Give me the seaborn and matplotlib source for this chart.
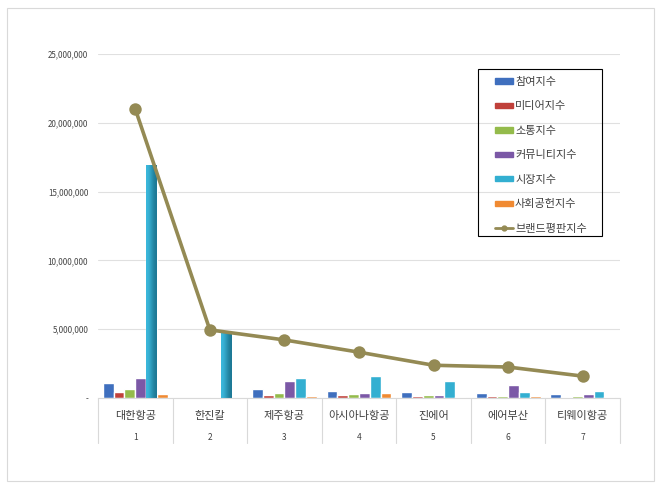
import pandas as pd
import seaborn as sns
import matplotlib.pyplot as plt
from matplotlib.patches import Rectangle
from matplotlib.lines import Line2D
from matplotlib.ticker import FuncFormatter
from matplotlib.colors import LinearSegmentedColormap

sns.set_style("white")
plt.rcParams['font.family'] = ['Noto Sans CJK KR', 'DejaVu Sans']

# data
companies = ['대한항공', '한진칼', '제주항공', '아시아나항공', '진에어', '에어부산', '티웨이항공']
ranks = ['1', '2', '3', '4', '5', '6', '7']
series = ['참여지수', '미디어지수', '소통지수', '커뮤니티지수', '시장지수', '사회공헌지수']
participation = [1090000, 20000, 650000, 480000, 440000, 360000, 310000]
media = [460000, 10000, 220000, 250000, 120000, 120000, 100000]
communication = [650000, 10000, 380000, 300000, 220000, 150000, 120000]
community = [1480000, 60000, 1240000, 380000, 220000, 940000, 290000]
market = [16900000, 4800000, 1450000, 1620000, 1240000, 440000, 510000]
social = [310000, 5000, 170000, 340000, 50000, 120000, 50000]
brand = [21000000, 4950000, 4220000, 3330000, 2380000, 2250000, 1590000]

colors = ['#3f6fbe', '#c0403a', '#94bb4b', '#7b58a6', '#33afd1', '#f08a32']
line_color = '#948a54'

rows = []
for name, vals in zip(series, [participation, media, communication, community, market, social]):
    for c, v in zip(companies, vals):
        rows.append({'company': c, 'series': name, 'value': v})
df = pd.DataFrame(rows)

fig = plt.figure(figsize=(6.6, 4.9), dpi=100)
ax = fig.add_axes([98 / 660, 1 - 398 / 490, 522 / 660, 344 / 490])

sns.barplot(data=df, x='company', y='value', hue='series', palette=colors,
            width=0.87, gap=0, saturation=1, ax=ax, legend=False)

# shaded look on the two tall market bars
shade = LinearSegmentedColormap.from_list('shade', ['#3cbade', '#1c7793'])
market_bars = ax.patches[4 * len(companies):5 * len(companies)]
for p in market_bars[:2]:
    x0, y0 = p.get_x(), p.get_y()
    im = ax.imshow([[0, 1]], cmap=shade, aspect='auto', interpolation='bicubic',
                   extent=(x0, x0 + p.get_width(), y0, y0 + p.get_height()), zorder=p.get_zorder())
    im.set_clip_path(p)

sns.pointplot(x=companies, y=brand, color=line_color, markers='o',
              markersize=7, linewidth=2.6, ax=ax)

ax.set_ylim(0, 25000000)
ax.set_xlim(-0.5, 6.5)
ax.set_yticks(range(0, 25000001, 5000000))
ax.yaxis.set_major_formatter(FuncFormatter(lambda v, p: '-' if v == 0 else f'{int(v):,}'))
ax.tick_params(axis='y', labelsize=5.8, colors='#444444', length=0, pad=7)
ax.grid(axis='y', color='#e0e0e0', linewidth=0.8)
ax.set_axisbelow(True)
for s in ['top', 'right', 'left']:
    ax.spines[s].set_visible(False)
ax.spines['bottom'].set_color('#d9d9d9')
ax.set_xticks([])
ax.set_xlabel('')
ax.set_ylabel('')

# two-level category labels
for i, (c, r) in enumerate(zip(companies, ranks)):
    ax.text(i, -0.052, c, transform=ax.get_xaxis_transform(), ha='center', va='center',
            fontsize=8, color='#404040')
    ax.text(i, -0.115, r, transform=ax.get_xaxis_transform(), ha='center', va='center',
            fontsize=6, color='#404040')
for b in range(8):
    ax.plot([b - 0.5, b - 0.5], [0, -0.131], transform=ax.get_xaxis_transform(),
            color='#d9d9d9', linewidth=0.8, clip_on=False)

# legend, frame drawn separately
handles = [Rectangle((0, 0), 1, 1, color=col) for col in colors]
handles.append(Line2D([0], [0], color=line_color, marker='o', markersize=3.5, linewidth=2))
leg = fig.legend(handles, series + ['브랜드평판지수'], loc='upper left',
                 bbox_to_anchor=(495 / 660, 1 - 77 / 490), fontsize=8,
                 frameon=False, handlelength=1.6, handleheight=0.35,
                 labelspacing=1.3, handletextpad=0.2, borderpad=0, borderaxespad=0)
for t in leg.get_texts():
    t.set_color('#404040')
fig.patches.append(Rectangle((478 / 660, 1 - 236 / 490), 124 / 660, 167 / 490,
                             transform=fig.transFigure, fill=False,
                             edgecolor='#000000', linewidth=0.8))

# outer border
fig.patches.append(Rectangle((7 / 660, 1 - 481 / 490), 647 / 660, 473 / 490,
                             transform=fig.transFigure, fill=False,
                             edgecolor='#d9d9d9', linewidth=0.8))

fig.savefig('out.png', dpi=100)
